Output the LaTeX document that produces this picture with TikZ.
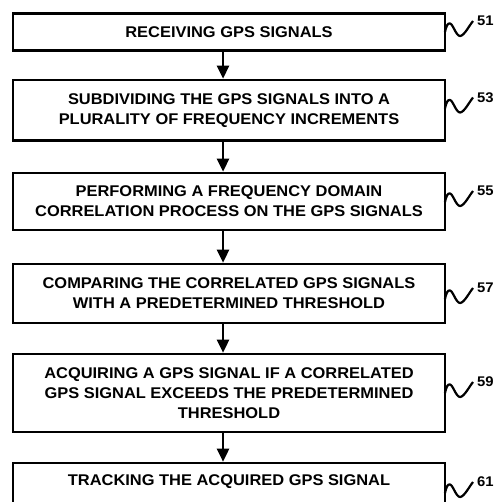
\documentclass[tikz,border=0pt]{standalone}
\usepackage{fontspec}
\setmainfont{Liberation Sans}[FakeStretch=1.06]
\usetikzlibrary{arrows.meta}
\begin{document}
\begin{tikzpicture}[x=1pt,y=-1pt,
  box/.style={draw, line width=2.6pt, minimum width=432pt, inner sep=0pt, align=center,
    font=\bfseries\fontsize{15.5}{20}\selectfont},
  flow/.style={line width=2.6pt, -{Triangle[width=12pt,length=13pt]}},
  num/.style={font=\bfseries\fontsize{14}{14}\selectfont, inner sep=0pt, anchor=west},
  squig/.style={line width=2.2pt}]
\useasboundingbox (0,0) rectangle (497,502);
\node[box, minimum height=37pt] (b1) at (229,32) {RECEIVING GPS SIGNALS};
\node[box, minimum height=60.5pt] (b2) at (229,110.25) {SUBDIVIDING THE GPS SIGNALS INTO A\\PLURALITY OF FREQUENCY INCREMENTS};
\node[box, minimum height=57pt] (b3) at (229,201.5) {PERFORMING A FREQUENCY DOMAIN\\CORRELATION PROCESS ON THE GPS SIGNALS};
\node[box, minimum height=59pt] (b4) at (229,293.5) {COMPARING THE CORRELATED GPS SIGNALS\\WITH A PREDETERMINED THRESHOLD};
\node[box, minimum height=78pt] (b5) at (229,393) {ACQUIRING A GPS SIGNAL IF A CORRELATED\\GPS SIGNAL EXCEEDS THE PREDETERMINED\\THRESHOLD};
\node[box, minimum height=46pt, text depth=12pt] (b6) at (229,486) {TRACKING THE ACQUIRED GPS SIGNAL};
\coordinate (ax) at (223,0);
\foreach \a/\b in {b1/b2,b2/b3,b3/b4,b4/b5,b5/b6}
  \draw[flow] (\a.south -| ax) -- (\b.north -| ax);
\foreach \n/\y in {51/21,53/97.5,55/191,57/288,59/382,61/482}{
  \node[num] (n\n) at (477,\y) {\n};
  \coordinate (s\n) at (445,\y+11);
  \coordinate (e\n) at (473,\y);
  \draw[squig] (s\n) .. controls (446.5,\y+4) and (448,\y+2) .. (450,\y+2.5)
     .. controls (453,\y+3) and (456,\y+15) .. (460,\y+15)
     .. controls (464,\y+15) and (469,\y+5) .. (e\n);
}
\end{tikzpicture}
\end{document}
